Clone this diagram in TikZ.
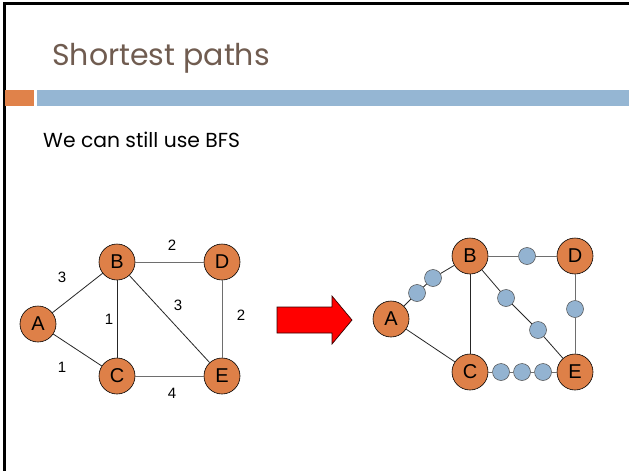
\documentclass[tikz,border=0pt]{standalone}
\usepackage{fontspec}
\setmainfont{Liberation Sans}
\newfontfamily\titlefont{Poppins}
\definecolor{titlebrown}{RGB}{112,92,80}
\definecolor{barorange}{RGB}{224,130,74}
\definecolor{barblue}{RGB}{149,182,211}
\definecolor{vtxorange}{RGB}{222,128,72}
\definecolor{dotblue}{RGB}{147,179,209}
\definecolor{edgegray}{RGB}{110,110,110}
\begin{document}
\begin{tikzpicture}[x=1pt,y=-1pt,
  vtx/.style={circle,draw=black,line width=0.6pt,fill=vtxorange,minimum size=36pt,inner sep=0pt,
    font=\fontsize{20}{20}\selectfont},
  dot/.style={circle,draw=black!70,line width=0.5pt,fill=dotblue,minimum size=17pt,inner sep=0pt},
  wlabel/.style={font=\fontsize{15}{15}\selectfont,inner sep=0pt},
  edge/.style={line width=0.8pt,black!85},
  gedge/.style={line width=0.8pt,edgegray}]
\useasboundingbox (0,0) rectangle (629,471);
\fill[white] (0,0) rectangle (629,471);

% slide frame
\draw[line width=2.5pt] (4.3,471) -- (4.3,3.7) -- (629,3.7);

% title and header bars
\node[anchor=base west,inner sep=0pt,text=titlebrown,font=\titlefont\fontsize{30}{30}\selectfont]
  (title) at (52,65) {Shortest paths};
\fill[barorange] (5,90) rectangle (34,106);
\fill[barblue] (37,90) rectangle (629,106);

\node[anchor=base west,inner sep=0pt,font=\titlefont\fontsize{20.3}{20.3}\selectfont]
  (body) at (43,147) {We can still use BFS};

% weighted graph
\node[vtx] (A) at (38,324) {A};
\node[vtx] (B) at (117,262) {B};
\node[vtx] (D) at (222,262) {D};
\node[vtx] (C) at (117,376) {C};
\node[vtx] (E) at (222,376) {E};
\draw[edge] (A) -- (B);
\draw[edge] (A) -- (C);
\draw[edge] (B) -- (C);
\draw[edge] (B) -- (E);
\draw[gedge] (B) -- (D);
\draw[gedge] (D) -- (E);
\draw[gedge] (C) -- (E);
\node[wlabel] (lAB) at (62,277) {3};
\node[wlabel] (lAC) at (62,367) {1};
\node[wlabel] (lBC) at (109,319) {1};
\node[wlabel] (lBD) at (172,245) {2};
\node[wlabel] (lBE) at (178,305) {3};
\node[wlabel] (lDE) at (241,315) {2};
\node[wlabel] (lCE) at (172,393) {4};

% transformation arrow
\filldraw[fill=red,draw=black!80!red,line width=0.7pt]
  (277,307) -- (332,307) -- (332,296) -- (352,320) -- (332,344) -- (332,333) -- (277,333) -- cycle;

% unweighted graph with intermediate vertices
\node[vtx] (A2) at (391,319) {A};
\node[vtx] (B2) at (470,256) {B};
\node[vtx] (D2) at (575,256) {D};
\node[vtx] (C2) at (470,372) {C};
\node[vtx] (E2) at (575,372) {E};
\node[dot] (ab1) at (417,293) {};
\node[dot] (ab2) at (433,278) {};
\node[dot] (bd1) at (527,256) {};
\node[dot] (be1) at (506,298) {};
\node[dot] (be2) at (538,330) {};
\node[dot] (de1) at (575,309) {};
\node[dot] (ce1) at (501,372) {};
\node[dot] (ce2) at (522,372) {};
\node[dot] (ce3) at (543,372) {};
\draw[edge] (A2) -- (ab1) -- (ab2) -- (B2);
\draw[edge] (A2) -- (C2);
\draw[edge] (B2) -- (C2);
\draw[edge] (B2) -- (be1) -- (be2) -- (E2);
\draw[gedge] (B2) -- (bd1) -- (D2);
\draw[gedge] (D2) -- (de1) -- (E2);
\draw[gedge] (C2) -- (ce1) -- (ce2) -- (ce3) -- (E2);
\end{tikzpicture}
\end{document}
